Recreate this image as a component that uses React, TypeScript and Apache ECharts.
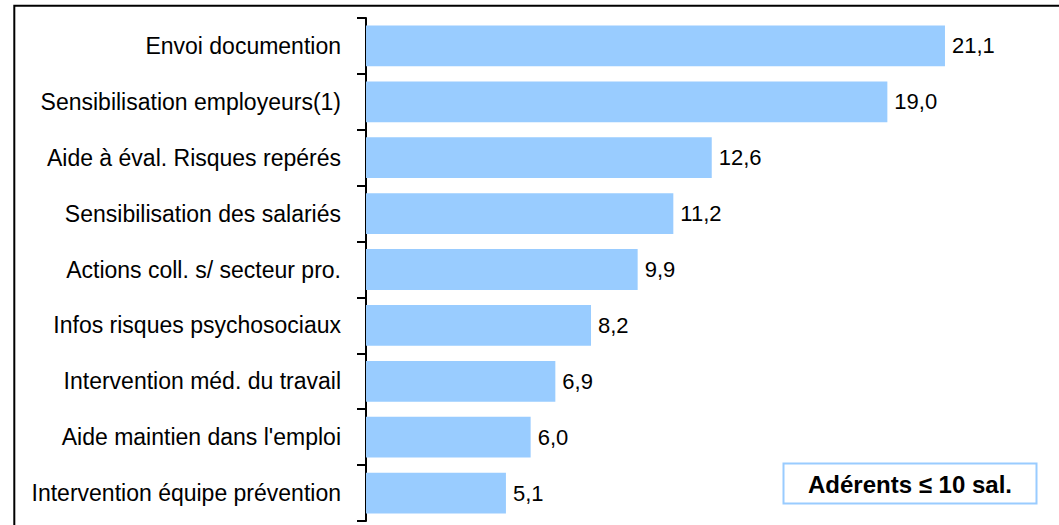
import React, { useEffect, useRef } from "react";
import * as echarts from "echarts";

const categories = [
  "Envoi documention",
  "Sensibilisation employeurs(1)",
  "Aide à éval. Risques repérés",
  "Sensibilisation des salariés",
  "Actions coll. s/ secteur pro.",
  "Infos risques psychosociaux",
  "Intervention méd. du travail",
  "Aide maintien dans l'emploi",
  "Intervention équipe prévention",
];
const values = [21.1, 19.0, 12.6, 11.2, 9.9, 8.2, 6.9, 6.0, 5.1];
const legendText = "Adérents \u2264 10 sal.";

export default function App() {
  const ref = useRef<HTMLDivElement>(null);
  useEffect(() => {
    if (!ref.current) return;
    const chart = echarts.init(ref.current, null, { renderer: "svg" });
    const font = "'Liberation Sans', Arial, sans-serif";
    chart.setOption({
      animation: false,
      backgroundColor: "#ffffff",
      grid: {
        left: 366,
        right: 7,
        top: 18,
        bottom: 4,
        containLabel: false,
        outerBoundsMode: "none",
      },
      xAxis: {
        type: "value",
        min: 0,
        max: 25,
        show: false,
      },
      yAxis: {
        type: "category",
        data: categories,
        inverse: true,
        axisLine: { show: true, lineStyle: { color: "#000", width: 2 } },
        axisTick: { show: true, length: 9, lineStyle: { color: "#000", width: 2 } },
        axisLabel: { color: "#000", fontSize: 23, fontFamily: font, margin: 25 },
        splitLine: { show: false },
      },
      series: [
        {
          type: "bar",
          data: values,
          barCategoryGap: "27%",
          itemStyle: { color: "#99CCFF" },
          label: {
            show: true,
            position: "right",
            distance: 7,
            color: "#000",
            fontSize: 22,
            fontFamily: font,
            formatter: (p: any) => p.value.toFixed(1).replace(".", ","),
          },
        },
      ],
      graphic: [
        {
          type: "rect",
          shape: { x: 14.3, y: 5.7, width: 1200, height: 700 },
          style: { fill: "none", stroke: "#000", lineWidth: 2 },
          silent: true,
          z: 100,
        },
        {
          type: "rect",
          shape: { x: 783.5, y: 463.5, width: 253, height: 40 },
          style: { fill: "#fff", stroke: "#99CCFF", lineWidth: 2 },
          z: 100,
        },
        {
          type: "text",
          x: 910,
          y: 484,
          style: {
            text: legendText,
            fontSize: 24,
            fontWeight: "bold",
            fontFamily: font,
            fill: "#000",
            align: "center",
            verticalAlign: "middle",
          },
          z: 101,
        },
      ],
    });
    return () => chart.dispose();
  }, []);
  return (
    <div
      ref={ref}
      style={{ position: "absolute", left: 0, top: 0, width: 1059, height: 525 }}
    />
  );
}
